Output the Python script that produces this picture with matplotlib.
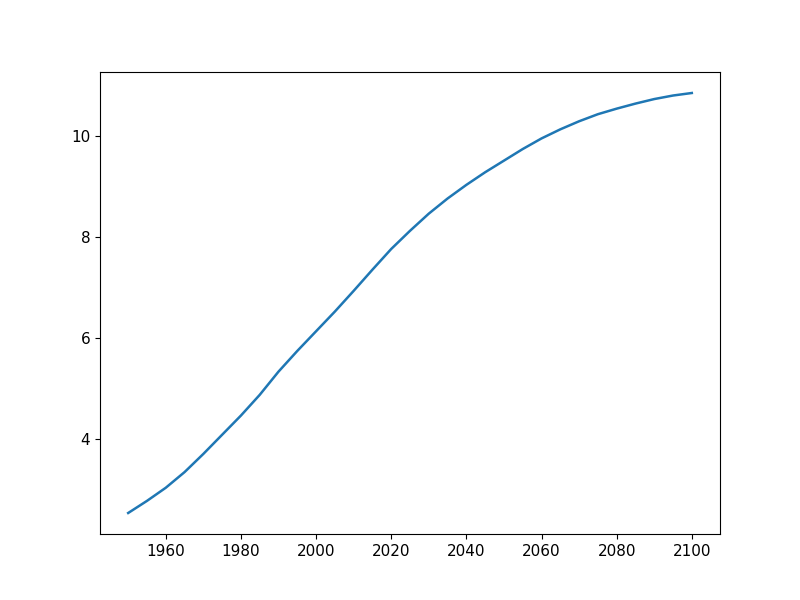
import matplotlib
matplotlib.use("Agg")
import matplotlib.pyplot as plt

# world population (billions)
years = list(range(1950, 2101, 5))
population = [2.53, 2.77, 3.03, 3.34, 3.70, 4.08, 4.46, 4.87, 5.33, 5.74,
              6.13, 6.52, 6.93, 7.35, 7.76, 8.12, 8.46, 8.76, 9.03, 9.28,
              9.51, 9.74, 9.95, 10.13, 10.29, 10.43, 10.54, 10.64, 10.73,
              10.80, 10.85]

fig, ax = plt.subplots(figsize=(8, 6), dpi=100)
ax.plot(years, population, linewidth=1.8)
ax.tick_params(labelsize=11)
fig.savefig("out.png")
